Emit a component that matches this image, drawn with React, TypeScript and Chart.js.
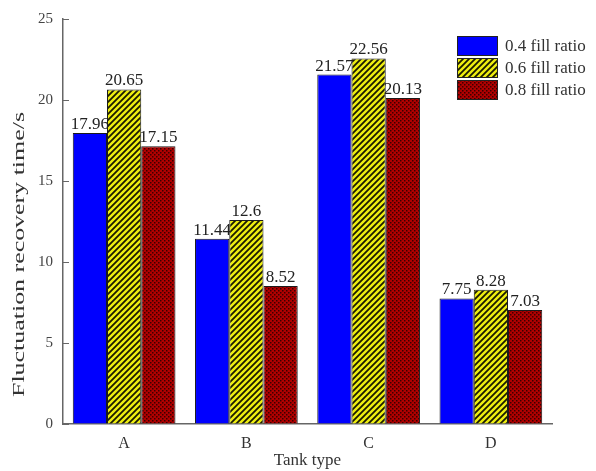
import React, { useEffect, useRef } from "react";
import { Chart, registerables } from "chart.js";

Chart.register(...registerables);

const categories = ["A", "B", "C", "D"];
const seriesNames = ["0.4 fill ratio", "0.6 fill ratio", "0.8 fill ratio"];
const fill04 = [17.96, 11.44, 21.57, 7.75];
const fill06 = [20.65, 12.6, 22.56, 8.28];
const fill08 = [17.15, 8.52, 20.13, 7.03];
const yTicks = [0, 5, 10, 15, 20, 25];
const yTitle = "Fluctuation recovery time/s";
const xTitle = "Tank type";

const FONT = "'Liberation Serif', 'Times New Roman', serif";

function stripePattern(): CanvasPattern | string {
  const c = document.createElement("canvas");
  c.width = 6;
  c.height = 6;
  const g = c.getContext("2d");
  if (!g) return "#e8e800";
  g.fillStyle = "#eeee10";
  g.fillRect(0, 0, 6, 6);
  g.strokeStyle = "#1a1a00";
  g.lineWidth = 1.8;
  g.beginPath();
  g.moveTo(-3, 3);
  g.lineTo(3, -3);
  g.moveTo(0, 6);
  g.lineTo(6, 0);
  g.moveTo(3, 9);
  g.lineTo(9, 3);
  g.stroke();
  const p = g.createPattern(c, "repeat");
  return p || "#e8e800";
}

function checkPattern(): CanvasPattern | string {
  const c = document.createElement("canvas");
  c.width = 4;
  c.height = 4;
  const g = c.getContext("2d");
  if (!g) return "#a00000";
  g.fillStyle = "#b00000";
  g.fillRect(0, 0, 4, 4);
  g.fillStyle = "#3a0000";
  g.fillRect(0, 0, 1.5, 1.5);
  g.fillRect(2, 2, 1.5, 1.5);
  const p = g.createPattern(c, "repeat");
  return p || "#a00000";
}

const valueLabels = {
  id: "valueLabels",
  afterDatasetsDraw(chart: any) {
    const ctx = chart.ctx;
    ctx.save();
    ctx.font = `17px ${FONT}`;
    ctx.fillStyle = "#222";
    ctx.textAlign = "center";
    ctx.textBaseline = "bottom";
    chart.data.datasets.forEach((ds: any, i: number) => {
      const meta = chart.getDatasetMeta(i);
      meta.data.forEach((bar: any, j: number) => {
        ctx.fillText(String(ds.data[j]), bar.x, bar.y);
      });
    });
    ctx.restore();
  },
};

const decorations = {
  id: "decorations",
  afterDraw(chart: any) {
    const ctx = chart.ctx;
    const area = chart.chartArea;
    const yScale = chart.scales.y;
    ctx.save();
    // inward tick marks
    ctx.strokeStyle = "#666";
    ctx.lineWidth = 1.2;
    ctx.beginPath();
    yTicks.forEach((v) => {
      const py = Math.round(yScale.getPixelForValue(v)) + 0.5;
      ctx.moveTo(area.left, py);
      ctx.lineTo(area.left + 6, py);
    });
    ctx.stroke();

    // y title, stretched along its length like the reference
    ctx.font = `16px ${FONT}`;
    ctx.fillStyle = "#333";
    ctx.textAlign = "center";
    ctx.textBaseline = "middle";
    const w = ctx.measureText(yTitle).width;
    const target = 285;
    ctx.translate(20, (area.top + area.bottom) / 2 + 33);
    ctx.rotate(-Math.PI / 2);
    ctx.scale(target / w, 1);
    ctx.fillText(yTitle, 0, 0);
    ctx.restore();

    // legend
    ctx.save();
    const x0 = area.right - 95;
    const y0 = area.top + 17;
    const bw = 41;
    const bh = 20;
    const gap = 2;
    ctx.font = `17px ${FONT}`;
    ctx.textAlign = "left";
    ctx.textBaseline = "middle";
    chart.data.datasets.forEach((ds: any, i: number) => {
      const y = y0 + i * (bh + gap);
      ctx.fillStyle = ds.backgroundColor;
      ctx.fillRect(x0, y, bw, bh);
      ctx.strokeStyle = "#222";
      ctx.lineWidth = 1;
      ctx.strokeRect(x0 + 0.5, y + 0.5, bw - 1, bh - 1);
      ctx.fillStyle = "#333";
      ctx.fillText(ds.label, x0 + bw + 7, y + bh / 2 + 1);
    });
    ctx.restore();
  },
};

export default function App() {
  const ref = useRef<HTMLCanvasElement | null>(null);
  useEffect(() => {
    if (!ref.current) return;
    const chart = new Chart(ref.current, {
      type: "bar",
      data: {
        labels: categories,
        datasets: [
          { label: seriesNames[0], data: fill04, backgroundColor: "#0000ff", borderColor: "#1a1a1a", borderWidth: 1 },
          { label: seriesNames[1], data: fill06, backgroundColor: stripePattern() as any, borderColor: "#1a1a1a", borderWidth: 1 },
          { label: seriesNames[2], data: fill08, backgroundColor: checkPattern() as any, borderColor: "#1a1a1a", borderWidth: 1 },
        ],
      },
      options: {
        animation: false,
        responsive: false,
        maintainAspectRatio: false,
        layout: { padding: { left: 8, top: 18, right: 44, bottom: 0 } },
        datasets: { bar: { barPercentage: 1, categoryPercentage: 0.84 } },
        plugins: { legend: { display: false }, tooltip: { enabled: false } },
        scales: {
          x: {
            grid: { display: false, drawTicks: false },
            border: { color: "#666", width: 1.5 },
            ticks: { font: { family: FONT, size: 16 }, color: "#333", padding: 10 },
            title: { display: true, text: xTitle, font: { family: FONT, size: 17 }, color: "#333", padding: { top: 0, bottom: 0 } },
            afterFit(scale: any) {
              scale.height = 47;
            },
          },
          y: {
            min: 0,
            max: 25,
            afterBuildTicks(scale: any) {
              scale.ticks = yTicks.map((v) => ({ value: v }));
            },
            grid: { drawOnChartArea: false, drawTicks: false },
            border: { color: "#666", width: 1.5 },
            ticks: { font: { family: FONT, size: 15 }, color: "#444", padding: 10 },
            title: { display: false },
            afterFit(scale: any) {
              scale.width = 55;
            },
          },
        },
      },
      plugins: [valueLabels, decorations],
    });
    return () => chart.destroy();
  }, []);
  return (
    <div style={{ position: "absolute", left: 0, top: 0, width: 596, height: 471, background: "#fff" }}>
      <canvas ref={ref} width={596} height={471} style={{ width: 596, height: 471 }} />
    </div>
  );
}
